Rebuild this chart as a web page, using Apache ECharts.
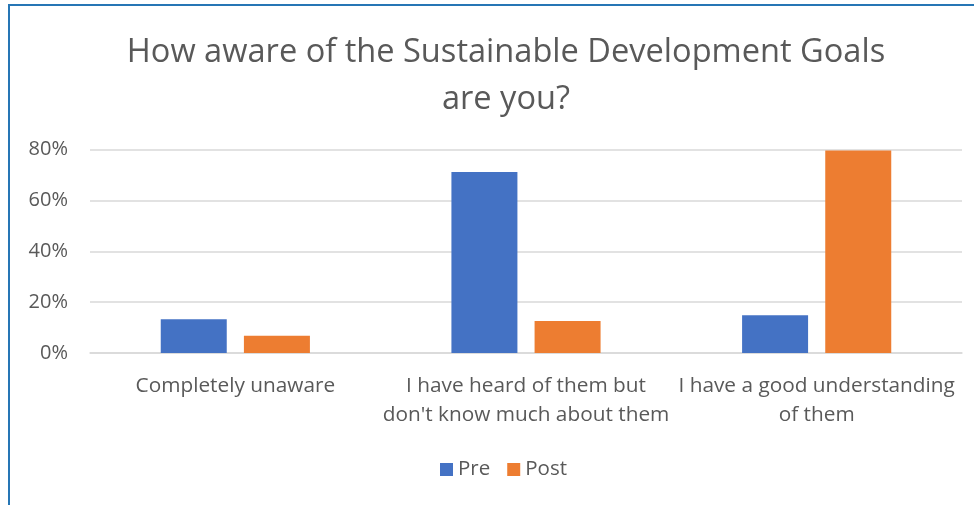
<!DOCTYPE html>
<html>
<head>
<meta charset="utf-8">
<script src="https://cdn.jsdelivr.net/npm/echarts@6/dist/echarts.min.js"></script>
<style>
  html, body { margin: 0; padding: 0; background: #fff; }
  #frame { position: absolute; left: 8px; top: 4px; width: 980px; height: 520px;
           border-left: 2px solid #2676b5; border-top: 2px solid #2676b5; }
  #main { position: absolute; left: 0; top: 0; width: 974px; height: 505px; }
</style>
</head>
<body>
<div id="frame"></div>
<div id="main"></div>
<script>
// chart data
var categories = ['Completely unaware', 'I have heard of them but\ndon\'t know much about them', 'I have a good understanding\nof them'];
var preValues = [13.3, 71.2, 14.8];
var postValues = [6.8, 12.6, 79.6];
var yTicks = [0, 20, 40, 60, 80];

var textColor = '#595959';
var font = 'Open Sans';

var chart = echarts.init(document.getElementById('main'));
chart.setOption({
    animation: false
    ,title: {
        text: 'How aware of the Sustainable Development Goals\nare you?'
        ,left: 501
        ,top: 24
        ,textAlign: 'center'
        ,textStyle: {fontFamily: font, fontSize: 32.6, fontWeight: 'normal', color: textColor, lineHeight: 47}
    }
    ,legend: {
        data: ['Pre', 'Post']
        ,left: 435
        ,top: 454
        ,itemWidth: 13
        ,itemHeight: 13
        ,itemGap: 17
        ,icon: 'rect'
        ,textStyle: {fontFamily: font, fontSize: 20.5, color: textColor}
    }
    ,grid: {left: 90, right: 12, top: 149.5, bottom: 152, containLabel: false}
    ,xAxis: {
        type: 'category'
        ,data: categories
        ,axisTick: {show: false}
        ,axisLine: {lineStyle: {color: '#d9d9d9', width: 1.5}}
        ,axisLabel: {fontFamily: font, fontSize: 20.8, color: textColor, lineHeight: 29, margin: 19, interval: 0}
    }
    ,yAxis: {
        type: 'value'
        ,min: yTicks[0]
        ,max: yTicks[yTicks.length - 1]
        ,interval: 20
        ,axisLabel: {fontFamily: font, fontSize: 20, color: textColor, margin: 22, formatter: '{value}%'}
        ,splitLine: {lineStyle: {color: '#d9d9d9', width: 1.5}}
    }
    ,series: [{
        name: 'Pre'
        ,type: 'bar'
        ,data: preValues
        ,barWidth: 66
        ,barGap: '26%'
        ,itemStyle: {color: '#4472c4'}
    },{
        name: 'Post'
        ,type: 'bar'
        ,data: postValues
        ,barWidth: 66
        ,itemStyle: {color: '#ed7d31'}
    }]
});
</script>
</body>
</html>
